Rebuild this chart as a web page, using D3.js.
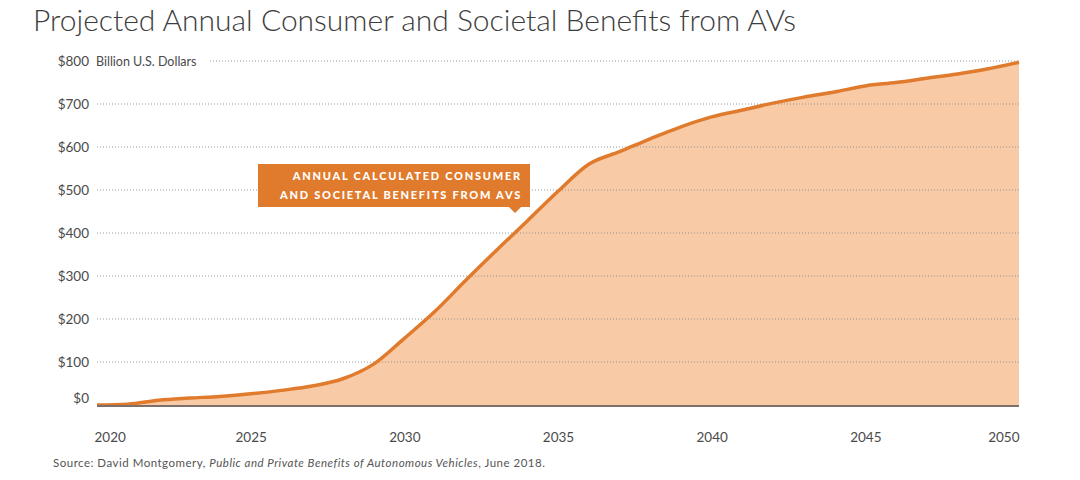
<!DOCTYPE html>
<html><head><meta charset="utf-8">
<script src="https://cdn.jsdelivr.net/npm/d3@7"></script>
<style>
html,body{margin:0;padding:0;background:#fff;}
svg{display:block;}
</style></head>
<body><svg id="chart" width="1080" height="480"></svg>
<script>
const years = d3.range(2020, 2051);
const benefits = [0, 2, 11, 16, 20, 26, 34, 44, 61, 95, 155, 218, 290, 360, 428, 497, 560, 589, 619, 647, 670, 686, 702, 716, 728, 742, 750, 760, 770, 782, 797];
const yTicks = [0, 100, 200, 300, 400, 500, 600, 700, 800];
const xTicks = [2020, 2025, 2030, 2035, 2040, 2045, 2050];
const titleText = "Projected Annual Consumer and Societal Benefits from AVs";
const unitText = "Billion U.S. Dollars";
const calloutLines = ["ANNUAL CALCULATED CONSUMER", "AND SOCIETAL BENEFITS FROM AVS"];

(function () {
const data = years.map((yr, i) => ({year: yr, value: benefits[i]}));
const svg = d3.select("#chart");
const pL = 97, pR = 1019, pT = 61, pB = 405;
const x = d3.scaleLinear().domain([2020, 2050]).range([pL, pR]);
const y = d3.scaleLinear().domain([0, 800]).range([pB, pT]);
const font = "Lato, 'Open Sans', 'Noto Sans', sans-serif";

// title
svg.append("text").attr("x", 33).attr("y", 31)
  .attr("font-family", font).attr("font-weight", 300).attr("font-size", 30)
  .attr("fill", "#3d3d3d").text(titleText);

// area
svg.append("path").datum(data)
  .attr("d", d3.area().x(d => x(d.year)).y0(pB).y1(d => y(d.value)).curve(d3.curveMonotoneX))
  .attr("fill", "#f8caa6");

// gridlines
const grid = svg.append("g");
yTicks.filter(v => v > 0).forEach(v => {
  grid.append("line")
    .attr("x1", v === 800 ? 210 : pL).attr("x2", pR)
    .attr("y1", y(v)).attr("y2", y(v))
    .attr("stroke", "#8c8c8c").attr("stroke-width", 1)
    .attr("stroke-dasharray", "1,2").attr("opacity", 0.9);
});

// y axis labels
const yAxis = d3.axisLeft(y).tickValues(yTicks).tickSize(0).tickPadding(0)
  .tickFormat(d => "$" + d);
const yg = svg.append("g").attr("transform", "translate(89,0)").call(yAxis);
yg.select(".domain").remove();
yg.selectAll("text").attr("font-family", font).attr("font-size", 13.5)
  .attr("fill", "#4a4a4a").attr("dy", d => d === 0 ? "-0.2em" : "0.32em");

svg.append("text").attr("x", 96).attr("y", y(800) + 4.5)
  .attr("font-family", font).attr("font-size", 12.5).attr("fill", "#4a4a4a")
  .text(unitText);

// line
svg.append("path").datum(data)
  .attr("d", d3.line().x(d => x(d.year)).y(d => y(d.value)).curve(d3.curveMonotoneX))
  .attr("fill", "none").attr("stroke", "#e07a2c").attr("stroke-width", 3.5)
  .attr("stroke-linejoin", "round");

// baseline
svg.append("line").attr("x1", pL).attr("x2", pR).attr("y1", pB + 1).attr("y2", pB + 1)
  .attr("stroke", "#7d6f69").attr("stroke-width", 1.8);

// x axis
const xAxis = d3.axisBottom(x).tickValues(xTicks).tickSize(0).tickPadding(0).tickFormat(d3.format("d"));
const xg = svg.append("g").attr("transform", `translate(0,${pB + 27})`).call(xAxis);
xg.select(".domain").remove();
xg.selectAll("text").attr("font-family", font).attr("font-size", 13.5).attr("fill", "#4a4a4a")
  .attr("text-anchor", d => d === 2020 ? "start" : d === 2050 ? "end" : "middle")
  .attr("dx", d => d === 2020 ? -3 : 0);

// callout
const cg = svg.append("g");
cg.append("path")
  .attr("d", "M258,164 H530 V207 H521 L515,213 L509,207 H258 Z")
  .attr("fill", "#e07a2c");
calloutLines.forEach((t, i) => {
  cg.append("text").attr("x", 522).attr("y", 180 + i * 19)
    .attr("text-anchor", "end").attr("font-family", font).attr("font-weight", 900)
    .attr("font-size", 11).attr("letter-spacing", 1.75).attr("fill", "#fff").text(t);
});

// source
const src = svg.append("text").attr("x", 53).attr("y", 467)
  .attr("font-family", font).attr("font-size", 11.5).attr("letter-spacing", 0.5).attr("fill", "#555");
src.append("tspan").text("Source: David Montgomery, ");
src.append("tspan").attr("font-style", "italic").text("Public and Private Benefits of Autonomous Vehicles");
src.append("tspan").text(", June 2018.");
})();
</script></body></html>
